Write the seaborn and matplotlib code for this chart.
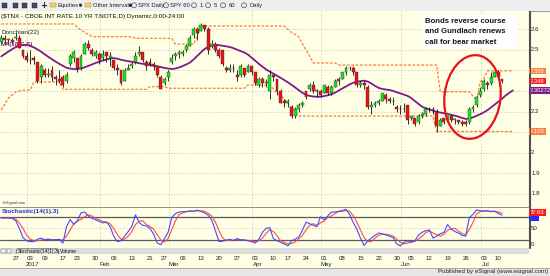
import numpy as np
import pandas as pd
import matplotlib
matplotlib.use("Agg")
import matplotlib.pyplot as plt
import matplotlib.transforms as mtransforms
from matplotlib.patches import Rectangle, Ellipse
from matplotlib import font_manager
import seaborn as sns

# ---------------- data ----------------
HOLIDAYS = ["2016-12-26", "2017-01-02", "2017-01-16", "2017-02-20",
            "2017-04-14", "2017-05-29", "2017-07-04"]
FIRST_DAY, LAST_DAY = "2016-12-20", "2017-07-14"
N_CANDLES = 139

OPEN = [2.54,2.56,2.55,2.55, 2.56,2.56,2.50,2.47, 2.45,2.46,2.44,2.37,
        2.40,2.38,2.40,2.37,2.36, 2.37,2.35,2.43,2.46, 2.46,2.41,2.48,2.53,2.50,
        2.47,2.48,2.46,2.49,2.46, 2.45,2.41,2.40,2.35,2.40, 2.42,2.44,2.48,2.49,2.44,
        2.44,2.43,2.42,2.37, 2.34,2.37,2.44,2.47,2.48, 2.48,2.50,2.52,2.57,2.60,
        2.59,2.62,2.60,2.52,2.53, 2.50,2.50,2.41,2.40,2.41, 2.38,2.38,2.41,2.39,2.42,
        2.39,2.33,2.36,2.34,2.30, 2.38,2.36,2.30,2.25, 2.24,2.22,2.18,2.21,2.23,
        2.30,2.31,2.33,2.30,2.30, 2.29,2.32,2.29,2.32,2.36, 2.36,2.39,2.41,2.41,2.39,
        2.33,2.34,2.32,2.22,2.23, 2.24,2.25,2.28,2.26,2.25, 2.22,2.21,2.21,2.23,
        2.17,2.17,2.15,2.18,2.19, 2.21,2.21,2.20,2.13,2.17, 2.16,2.18,2.16,2.16,2.15,
        2.15,2.15,2.21,2.23,2.28, 2.31,2.34,2.34,2.37, 2.39,2.36]
HIGH = [2.57,2.57,2.56,2.56, 2.58,2.57,2.50,2.49, 2.50,2.47,2.44,2.43,
        2.41,2.41,2.42,2.38,2.40, 2.38,2.39,2.48,2.50, 2.46,2.48,2.54,2.55,2.51,
        2.50,2.49,2.50,2.49,2.49, 2.45,2.43,2.40,2.41,2.43, 2.44,2.49,2.52,2.49,2.45,
        2.46,2.44,2.42,2.38, 2.37,2.40,2.48,2.49,2.50, 2.50,2.53,2.57,2.61,2.61,
        2.63,2.62,2.61,2.55,2.54, 2.51,2.50,2.42,2.43,2.43, 2.40,2.43,2.41,2.43,2.42,
        2.39,2.37,2.37,2.36,2.40, 2.38,2.36,2.31,2.26, 2.26,2.23,2.22,2.24,2.25,
        2.30,2.34,2.35,2.31,2.31, 2.33,2.33,2.33,2.36,2.37, 2.39,2.42,2.42,2.42,2.39,
        2.35,2.35,2.33,2.25,2.25, 2.26,2.29,2.29,2.27,2.27, 2.23,2.23,2.24,2.23,
        2.18,2.17,2.19,2.20,2.22, 2.22,2.22,2.21,2.17,2.17, 2.19,2.19,2.17,2.16,2.16,
        2.16,2.22,2.23,2.28,2.32, 2.36,2.35,2.39,2.40, 2.40,2.36]
LOW = [2.53,2.53,2.53,2.53, 2.55,2.51,2.46,2.44, 2.43,2.43,2.34,2.34,
       2.37,2.37,2.35,2.33,2.34, 2.32,2.34,2.42,2.44, 2.39,2.40,2.48,2.50,2.47,
       2.46,2.43,2.45,2.44,2.42, 2.40,2.38,2.33,2.35,2.40, 2.41,2.43,2.47,2.44,2.40,
       2.42,2.40,2.37,2.31, 2.33,2.35,2.43,2.45,2.46, 2.47,2.49,2.52,2.56,2.55,
       2.59,2.59,2.48,2.51,2.49, 2.46,2.42,2.39,2.39,2.39, 2.35,2.37,2.37,2.39,2.38,
       2.33,2.32,2.32,2.32,2.26, 2.35,2.28,2.24,2.22, 2.22,2.17,2.17,2.20,2.22,
       2.26,2.30,2.29,2.27,2.27, 2.29,2.28,2.28,2.32,2.33, 2.36,2.38,2.40,2.38,2.32,
       2.32,2.31,2.21,2.19,2.22, 2.23,2.25,2.24,2.24,2.23, 2.20,2.19,2.20,2.14,
       2.16,2.13,2.14,2.17,2.18, 2.20,2.19,2.10,2.13,2.14, 2.16,2.15,2.14,2.14,2.13,
       2.13,2.14,2.20,2.22,2.27, 2.30,2.31,2.33,2.37, 2.37,2.34]
CLOSE = [2.56,2.55,2.55,2.54, 2.56,2.51,2.47,2.45, 2.45,2.45,2.35,2.42,
         2.38,2.38,2.37,2.36,2.35, 2.33,2.38,2.47,2.49, 2.41,2.47,2.53,2.51,2.48,
         2.49,2.45,2.48,2.47,2.47, 2.41,2.40,2.34,2.40,2.41, 2.43,2.47,2.49,2.45,2.42,
         2.43,2.42,2.38,2.31, 2.36,2.39,2.46,2.48,2.49, 2.49,2.52,2.56,2.60,2.58,
         2.62,2.60,2.50,2.53,2.50, 2.47,2.43,2.40,2.41,2.41, 2.37,2.42,2.38,2.42,2.39,
         2.34,2.36,2.34,2.34,2.38, 2.37,2.30,2.24,2.24, 2.25,2.18,2.21,2.23,2.24,
         2.27,2.33,2.30,2.30,2.28, 2.33,2.29,2.32,2.35,2.35, 2.39,2.41,2.41,2.39,2.33,
         2.34,2.33,2.22,2.23,2.24, 2.25,2.29,2.26,2.25,2.25, 2.21,2.21,2.21,2.16,
         2.18,2.14,2.18,2.19,2.21, 2.21,2.21,2.13,2.16,2.15, 2.19,2.16,2.16,2.15,2.14,
         2.14,2.21,2.22,2.27,2.30, 2.35,2.33,2.37,2.39, 2.37,2.348]

MA18 = [2.468,2.480,2.492,2.503, 2.513,2.520,2.524,2.524,2.519,2.512,2.502,2.491,2.478,2.466,
        2.454,2.443,2.432,2.422,2.413,2.409,2.407,2.407,2.410,2.415,
        2.422,2.429,2.436,2.442,2.448,2.453,2.458,2.460,2.457,2.452,
        2.448,2.445,2.442,2.439,2.435,2.432,2.429,2.426,2.423,2.420,
        2.416,2.412,2.409,2.407,2.409,2.414,2.421,2.429,2.438,2.453,
        2.470,2.487,2.504,2.514,2.520,2.524,2.523,2.520,2.517,2.514,
        2.508,2.501,2.494,2.487,2.477,2.462,2.447,2.432,2.418,2.405,
        2.394,2.384,2.374,2.364,2.353,2.342,2.330,2.317,2.304,2.291,
        2.281,2.276,2.273,2.272,2.272,2.275,2.279,2.284,2.292,2.302,
        2.312,2.322,2.332,2.340,2.344,2.348,2.350,2.346,2.336,2.325,
        2.315,2.310,2.307,2.305,2.300,2.294,2.288,2.282,2.276,2.265,
        2.251,2.237,2.223,2.216,2.210,2.204,2.199,2.195,2.192,2.188,
        2.184,2.180,2.175,2.169,2.164,2.166,2.172,2.179,2.187,2.196,
        2.207,2.220,2.234,2.248,2.262,2.278,2.291,2.30272]

DON_UP = ([2.626]*21 + [2.610,2.597,2.585,2.575,2.566] + [2.564]*11 + [2.556]*11 +
          [2.528]*6 + [2.565] + [2.616]*24 + [2.600,2.585,2.575,2.563,2.530,2.499,2.470] +
          [2.436]*7 + [2.426]*28 + [2.296]*9 + [2.275,2.256,2.344,2.360] + [2.398]*8)
DON_LO = ([2.207,2.236,2.266,2.280,2.295,2.300,2.303,2.305,2.305] + [2.344]*8 +
          [2.308]*24 + [2.321]*5 + [2.313]*22 + [2.329]*7 +
          [2.310,2.290,2.280,2.260,2.241,2.220,2.200] + [2.178]*38 + [2.103]*22)

STO_K = [77,77,77,76, 70,50,26,18,16,16,22,25,20,22, 20,21,22,12,54,73,60,70,90,92,
         82,76,72,68,64,66,55,30,16,18, 30,42,55,85,65,58,56,50,35,12,
         8,24,40,78,88,92,93,93,95,94, 97,94,90,84,72,45,16,17,20,22,
         18,24,20,20,18,16,12,22,40,50, 52,24,18,14,10,5,18,22,28,45,
         66,62,58,54,80,72,82,92,92,94, 96,99,86,65,48,25,6,18,25,32,
         38,36,33,30,26,10,5,14,18,14, 18,33,40,44,46,25,30,36,40,60,
         48,42,38,32,30,78,86,98,95,94, 95,93,94,88,84]
STO_D = [77,77,77,76, 74,64,50,33,22,19,18,20,22,22, 21,21,21,20,30,46,62,68,73,80,
         85,82,76,72,68,66,62,50,34,22, 22,30,42,60,68,70,60,55,48,33,
         20,15,24,47,69,85,90,93,94,94, 95,95,94,89,82,67,44,26,18,20,
         20,21,21,20,19,18,16,18,25,37, 47,42,31,18,14,10,11,15,23,32,
         46,58,62,58,64,69,78,82,88,93, 94,96,94,83,66,46,26,16,16,25,
         32,35,35,33,30,22,14,10,12,15, 17,22,30,39,43,38,34,30,35,45,
         49,50,43,37,33,47,65,87,93,96, 95,94,94,92,89]
STO_LAST_LABEL = "87.63"

PRICE_GRID = [2.6, 2.5, 2.4, 2.3, 2.2, 2.1, 2.0, 1.9, 1.8]
PRICE_LABELS = {2.6: "2.6", 2.5: "2.5", 2.2: "2.2", 2.0: "2", 1.9: "1.9", 1.8: "1.8"}
TITLE = "($TNX - CBOE INT RATE 10 YR T.NOTE,D) Dynamic,0:00-24:00"
NOTE = ["Bonds reverse course", "and Gundlach renews", "call for bear market"]

# ---------------- style ----------------
sns.set_style("white")


def pick(fams):
    for f in fams:
        try:
            font_manager.findfont(font_manager.FontProperties(family=f), fallback_to_default=False)
            return f
        except Exception:
            pass
    return "DejaVu Sans"


NARROW = pick(["Liberation Sans Narrow", "Liberation Sans"])
ARIAL = pick(["Liberation Sans", "DejaVu Sans"])
plt.rcParams["font.family"] = [NARROW, "DejaVu Sans"]

YEL = "#FFFFE6"
GRID = "#A8A8A0"
W, H = 550, 276

days = pd.bdate_range(FIRST_DAY, LAST_DAY)
days = days[~days.isin(pd.to_datetime(HOLIDAYS))]
pos = np.arange(len(days)) - 4          # 27 Dec 2016 = 0
cpos = pos[:N_CANDLES]

O, Hh, L, C = (np.array(a) for a in (OPEN, HIGH, LOW, CLOSE))

fig = plt.figure(figsize=(W / 100, H / 100), dpi=100)
fig.patch.set_facecolor("#EDEDED")


def fr(x0, y0, x1, y1):
    return [x0 / W, 1 - y1 / H, (x1 - x0) / W, (y1 - y0) / H]


bg = fig.add_axes([0, 0, 1, 1])
bg.set_xlim(0, W)
bg.set_ylim(H, 0)
bg.axis("off")
bg.add_patch(Rectangle((0, 11), W, 256, color=YEL, zorder=0))
bg.add_patch(Rectangle((0, 0), W, 10.5, color="#EFEFEF", zorder=0))
bg.plot([0, W], [10.5, 10.5], color="#9C9C9C", lw=0.7)
# toolbar
for x0 in (2, 13, 22, 32):
    bg.add_patch(Rectangle((x0, 2.5), 5, 5, facecolor="#3C4A6A", edgecolor="#222", lw=0.3))
bg.text(43.5, 5.2, "+", fontsize=6, ha="center", va="center", fontweight="bold", family="DejaVu Sans")
for x0 in (50, 85):
    bg.add_patch(Rectangle((x0, 3), 5.5, 4.2, facecolor="#F6D65A", edgecolor="#A08020", lw=0.3))
tb = [(58, "Equities"), (93, "Other Intervals"),
      (138, "SPX Daily"), (170, "SPY 60"), (200, "1"), (213.5, "5"), (228.5, "60"), (249, "Daily")]
for x0, s in tb:
    bg.text(x0, 5.4, s, fontsize=4.2, va="center", ha="left", color="#202020",
            family=[NARROW, "DejaVu Sans"])
for x0 in (79.5, 129.5):
    bg.plot([x0], [5.4], marker="v", ms=1.6, color="#303030")
for x0 in (134, 166, 194, 208, 223, 244):
    bg.add_patch(Ellipse((x0, 5.3), 5, 5, facecolor="#E8E8E8", edgecolor="#333", lw=0.4))

# ---------------- main price panel ----------------
XL = (-4.33, 141.44)
ax = fig.add_axes(fr(0, 11, 529, 206.5), facecolor=YEL)
ax.set_xlim(*XL)
ax.set_ylim(1.738, 2.689)
for s in ("top", "left"):
    ax.spines[s].set_visible(False)
ax.spines["right"].set_color("#505050")
ax.spines["right"].set_linewidth(0.8)
ax.spines["bottom"].set_color("#808080")
ax.spines["bottom"].set_linewidth(0.6)
ax.set_xticks([])
ax.set_yticks([])

for v in PRICE_GRID:
    ax.axhline(v, color=GRID, lw=0.6, ls=(0, (1, 2.6)), zorder=1)

month_first = [i for i in range(1, len(days)) if days[i].month != days[i - 1].month and pos[i] > 0]
for i in month_first:
    ax.axvline(pos[i] - 0.8, color=GRID, lw=0.6, ls=(0, (1, 2.6)), zorder=1)

# candles
up = C >= O
ax.vlines(cpos, L, Hh, color="#101010", lw=0.6, zorder=3)
ax.bar(cpos, np.maximum(np.abs(C - O), 0.0025), bottom=np.minimum(O, C), width=0.8,
       color=np.where(up, "#19E619", "#F01010"), edgecolor="#303030", linewidth=0.3, zorder=4)

# indicators
sns.lineplot(x=pos, y=DON_UP, ax=ax, color="#FF7A36", lw=0.9, linestyle=(0, (2.2, 1.3)), zorder=2)
sns.lineplot(x=pos, y=DON_LO, ax=ax, color="#FF7A36", lw=0.9, linestyle=(0, (2.2, 1.3)), zorder=2)
sns.lineplot(x=pos, y=MA18, ax=ax, color="#7F1A8C", lw=1.3, zorder=2)

# labels in panel
ytr = mtransforms.blended_transform_factory(ax.transAxes, ax.transData)
ax.text(0.002, 2.661, TITLE, transform=ytr, fontsize=4.6, color="#101010", va="center")
ax.text(0.002, 2.586, "Donchian(22)", transform=ytr, fontsize=4.6, color="#202020", va="center")
ax.text(0.002, 2.526, "MA(18,C,S)", transform=ytr, fontsize=4.4, color="#7F1A8C", va="center",
        fontweight="bold")
ax.text(0.003, 1.745, "\u00A9eSignal.com", transform=ytr, fontsize=2.8, color="#303030", va="bottom")

for v, s in PRICE_LABELS.items():
    ax.text(1.004, v, s, transform=ytr, fontsize=4.4, va="center", ha="left", color="#202020", clip_on=False)

boxes = [(2.397, f"{DON_UP[-1]:.3f}", "#FF8040"), (C[-1], f"{C[-1]:.3f}", "#FF1A1A"),
         (MA18[-1], f"{MA18[-1]:.5f}", "#7F1A8C"), (DON_LO[-1], f"{DON_LO[-1]:.3f}", "#FF8040")]
for v, s, col in boxes:
    ax.text(1.002, v, s, transform=ytr, fontsize=4.2, va="center", ha="left", color="white",
            clip_on=False, zorder=10,
            bbox=dict(boxstyle="square,pad=0.15", facecolor=col, edgecolor="none"))

# ---------------- stochastic panel ----------------
sx = fig.add_axes(fr(0, 207, 529, 248), facecolor=YEL)
sx.set_xlim(*XL)
sx.set_ylim(-0.5, 105)
sx.spines["left"].set_visible(False)
for s in ("top", "bottom"):
    sx.spines[s].set_color("#808080")
    sx.spines[s].set_linewidth(0.6)
sx.spines["right"].set_color("#505050")
sx.spines["right"].set_linewidth(0.8)
sx.set_xticks([])
sx.set_yticks([])
sx.axhline(50, color=GRID, lw=0.6, ls=(0, (1, 2.6)))
for i in month_first:
    sx.axvline(pos[i] - 0.8, color=GRID, lw=0.6, ls=(0, (1, 2.6)))
sx.axhline(80, color="#5A5A5A", lw=0.9)
sx.axhline(20, color="#5A5A5A", lw=0.9)
sns.lineplot(x=cpos, y=STO_D, ax=sx, color="#FF4A4A", lw=0.8)
sns.lineplot(x=cpos, y=STO_K, ax=sx, color="#4A4AFF", lw=0.8)
sx.text(0.003, 0.89, "Stochastic(14(1),3)", transform=sx.transAxes, fontsize=4.6, color="#2030D0",
        fontweight="bold", va="center")
str_ = mtransforms.blended_transform_factory(sx.transAxes, sx.transData)
sx.text(1.004, 50, "50", transform=str_, fontsize=4.4, va="center", color="#202020", clip_on=False)
sx.text(1.004, 9, "0", transform=str_, fontsize=4.4, va="center", color="#202020", clip_on=False)
sx.text(1.002, 78, "      ", transform=str_, fontsize=3.6, va="center", clip_on=False,
        bbox=dict(boxstyle="square,pad=0.15", facecolor="#2A2AFF", edgecolor="none"))
sx.text(1.002, 90, STO_LAST_LABEL, transform=str_, fontsize=4.2, va="center", color="white",
        clip_on=False, zorder=10, bbox=dict(boxstyle="square,pad=0.15", facecolor="#FF1A1A", edgecolor="none"))

# ---------------- overlay (annotation, tab bar, date axis) ----------------
ov = fig.add_axes([0, 0, 1, 1])
ov.set_xlim(0, W)
ov.set_ylim(H, 0)
ov.axis("off")
ov.patch.set_alpha(0)

# red ellipse annotation (slightly tilted)
ov.add_patch(Ellipse((472.5, 97), 56, 84, angle=7, fill=False, edgecolor="#E8121A", lw=1.6))

# note box
ov.add_patch(Rectangle((423, 15), 94, 33, facecolor="white", edgecolor="none", zorder=5))
for k, s in enumerate(NOTE):
    ov.text(425, 21.5 + k * 10.3, s, fontsize=5.6, fontweight="bold", color="#101820",
            va="center", ha="left", family=[ARIAL, "DejaVu Sans"], zorder=6)

# tab bar
ov.add_patch(Rectangle((0, 248.3), 529, 5.7, facecolor="#DCDCDC", edgecolor="none", zorder=1))
for x0 in (1, 6.5):
    ov.add_patch(Rectangle((x0, 249), 4.5, 4.2, facecolor="#F2F2F2", edgecolor="#606060", lw=0.3, zorder=2))
ov.text(18, 251.3, "Stochastic(14(1),3)", fontsize=3.6, va="center", color="#101010", zorder=3)
ov.text(60, 251.3, "Volume", fontsize=3.6, va="center", color="#101010", zorder=3)
ov.plot([16, 17, 57, 59], [253.8, 248.8, 248.8, 253.8], color="#404040", lw=0.4, zorder=3)

# date axis
xt = mtransforms.blended_transform_factory(sx.transData, ov.transData)
week_first = [i for i in range(1, len(days)) if days[i].weekday() < days[i - 1].weekday()
              and 0 <= pos[i] < N_CANDLES - 4]
for i in week_first:
    ov.text(pos[i], 258.2, f"{days[i].day:02d}", transform=xt, fontsize=4.4, ha="center", va="center",
            color="#202020")
for i in month_first:
    lab = str(days[i].year) if days[i].month == 1 else days[i].strftime("%b")
    ov.text(pos[i] + 0.6, 264.2, lab, transform=xt, fontsize=4.4, ha="center", va="center", color="#202020")

# status bar
ov.add_patch(Rectangle((0, 267.5), W, 8.5, facecolor="#E6E6E6", edgecolor="none", zorder=1))
ov.plot([0, W], [267.5, 267.5], color="#A0A0A0", lw=0.6)
ov.text(548, 272, "Published by eSignal (www.esignal.com)", fontsize=4.4, ha="right", va="center",
        color="#202020", zorder=3)
ov.plot([529.5, 529.5], [11, 248], color="#505050", lw=0.8)

fig.savefig("out.png", dpi=100, facecolor=fig.get_facecolor())
